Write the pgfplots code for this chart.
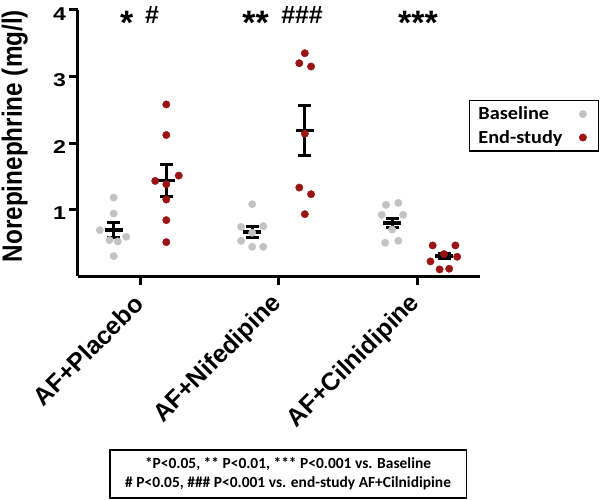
\documentclass[border=0pt]{standalone}
\usepackage{fontspec}
\setmainfont{Liberation Sans}
\newfontfamily\arialwide{Liberation Sans}[FakeStretch=1.25]
\newfontfamily\arialnarrow{Liberation Sans}[FakeStretch=0.87]
\newfontfamily\calibri{Carlito}
\newfontfamily\calibriwide{Carlito}[FakeStretch=1.1]
\usepackage{pgfplots}
\pgfplotsset{compat=1.18}
\definecolor{basegray}{RGB}{195,195,195}
\definecolor{endred}{RGB}{155,20,20}

\begin{document}
\begin{tikzpicture}
\begin{axis}[
    scale only axis,
    width=402bp, height=266bp,
    xmin=0.552, xmax=3.455, ymin=0, ymax=4,
    axis x line=bottom, axis y line=left,
    axis line style={-, line width=3bp},
    xtick={1,2,3},
    xticklabels={AF+Placebo, AF+Nifedipine, AF+Cilnidipine},
    ytick={1,2,3,4},
    tick align=outside,
    major tick length=8.5bp,
    tick style={line width=3bp, black},
    x tick label style={rotate=45, anchor=east, xshift=-8bp, yshift=-10bp,
        font=\fontsize{25}{27}\selectfont\bfseries},
    y tick label style={yshift=-4bp, font=\arialwide\fontsize{18.6}{20}\selectfont\bfseries},
    /pgf/number format/assume math mode=true,
    ylabel={Norepinephrine (mg/l)},
    ylabel style={at={(axis description cs:-0.157,0.526)}, anchor=center,
        font=\arialnarrow\fontsize{28}{30}\selectfont\bfseries},
    clip=false,
    legend plot pos=right,
    legend cell align=left,
    legend image code/.code={
        \path[draw=none] (0cm,0cm) (0.95cm,0cm);
        \draw[#1, only marks] plot coordinates {(0.65cm,0cm)};},
    legend style={name=leg, at={(0.973,0.659)}, anchor=north west,
        draw=none, fill=white,
        inner xsep=7bp, inner ysep=4bp, row sep=5bp,
        font=\calibriwide\fontsize{18.5}{20}\selectfont\bfseries},
]

% means +- SEM
\addplot[forget plot, only marks, mark=-, mark size=9bp, mark options={line width=3.4bp}, black,
    error bars/.cd, y dir=both, y explicit,
    error bar style={line width=3bp},
    error mark options={rotate=90, mark size=6.5bp, line width=3bp}]
coordinates {
    (0.81,0.69) +- (0,0.11)
    (1.19,1.44) +- (0,0.24)
    (1.81,0.66) +- (0,0.08)
    (2.19,2.19) +- (0,0.38)
    (2.82,0.80) +- (0,0.07)
    (3.195,0.30) +- (0,0.04)
};

% baseline
\addplot[only marks, mark=*, mark size=3.7bp, color=basegray] coordinates {
    (0.81,1.18) (0.81,0.94) (0.71,0.69) (0.78,0.54) (0.84,0.52) (0.90,0.59) (0.81,0.30)
    (1.81,1.08) (1.73,0.74) (1.89,0.75) (1.81,0.65) (1.73,0.53) (1.81,0.44) (1.89,0.44)
    (2.776,1.07) (2.865,1.10) (2.745,0.92) (2.90,0.92) (2.82,0.70) (2.77,0.50) (2.865,0.53)
};
\addlegendentry{Baseline}

% end-study
\addplot[only marks, mark=*, mark size=3.7bp, color=endred] coordinates {
    (1.19,2.58) (1.19,2.12) (1.11,1.43) (1.28,1.51) (1.19,1.38) (1.19,1.15) (1.19,0.84) (1.19,0.51)
    (2.19,3.35) (2.15,3.20) (2.235,3.15) (2.19,2.14) (2.15,1.33) (2.235,1.23) (2.19,0.93)
    (3.113,0.46) (3.277,0.46) (3.195,0.33) (3.097,0.22) (3.29,0.29) (3.163,0.10) (3.232,0.11)
};
\addlegendentry{End-study}

% significance marks
\node[anchor=base, font=\fontsize{34}{36}\selectfont\bfseries] at (axis cs:0.904,3.63) {*};
\node[anchor=base, font=\fontsize{25}{27}\selectfont\bfseries] at (axis cs:1.087,3.80) {\#};
\node[anchor=base, font=\fontsize{34}{36}\selectfont\bfseries] at (axis cs:1.834,3.63) {**};
\node[anchor=base, font=\fontsize{25}{27}\selectfont\bfseries] at (axis cs:2.17,3.80) {\#\#\#};
\node[anchor=base, font=\fontsize{34}{36}\selectfont\bfseries] at (axis cs:3.007,3.63) {***};

\node[draw, line width=1.2bp, align=center, inner sep=0pt,
    minimum width=356bp, minimum height=48bp,
    font=\calibri\fontsize{15.5}{19}\selectfont\bfseries] at (axis cs:2.069,-2.977)
    {*P<0.05, ** P<0.01, *** P<0.001 vs. Baseline\\
     \# P<0.05, \#\#\# P<0.001 vs. end-study AF+Cilnidipine};

\coordinate (bbsw) at (axis cs:-0.0108,-3.353);
\coordinate (bbne) at (axis cs:4.321,4.150);
\end{axis}
\draw[line width=1.3bp] (leg.south west) rectangle (leg.north east);
\pgfresetboundingbox
\path[use as bounding box] (bbsw) rectangle (bbne);
\end{tikzpicture}
\end{document}
